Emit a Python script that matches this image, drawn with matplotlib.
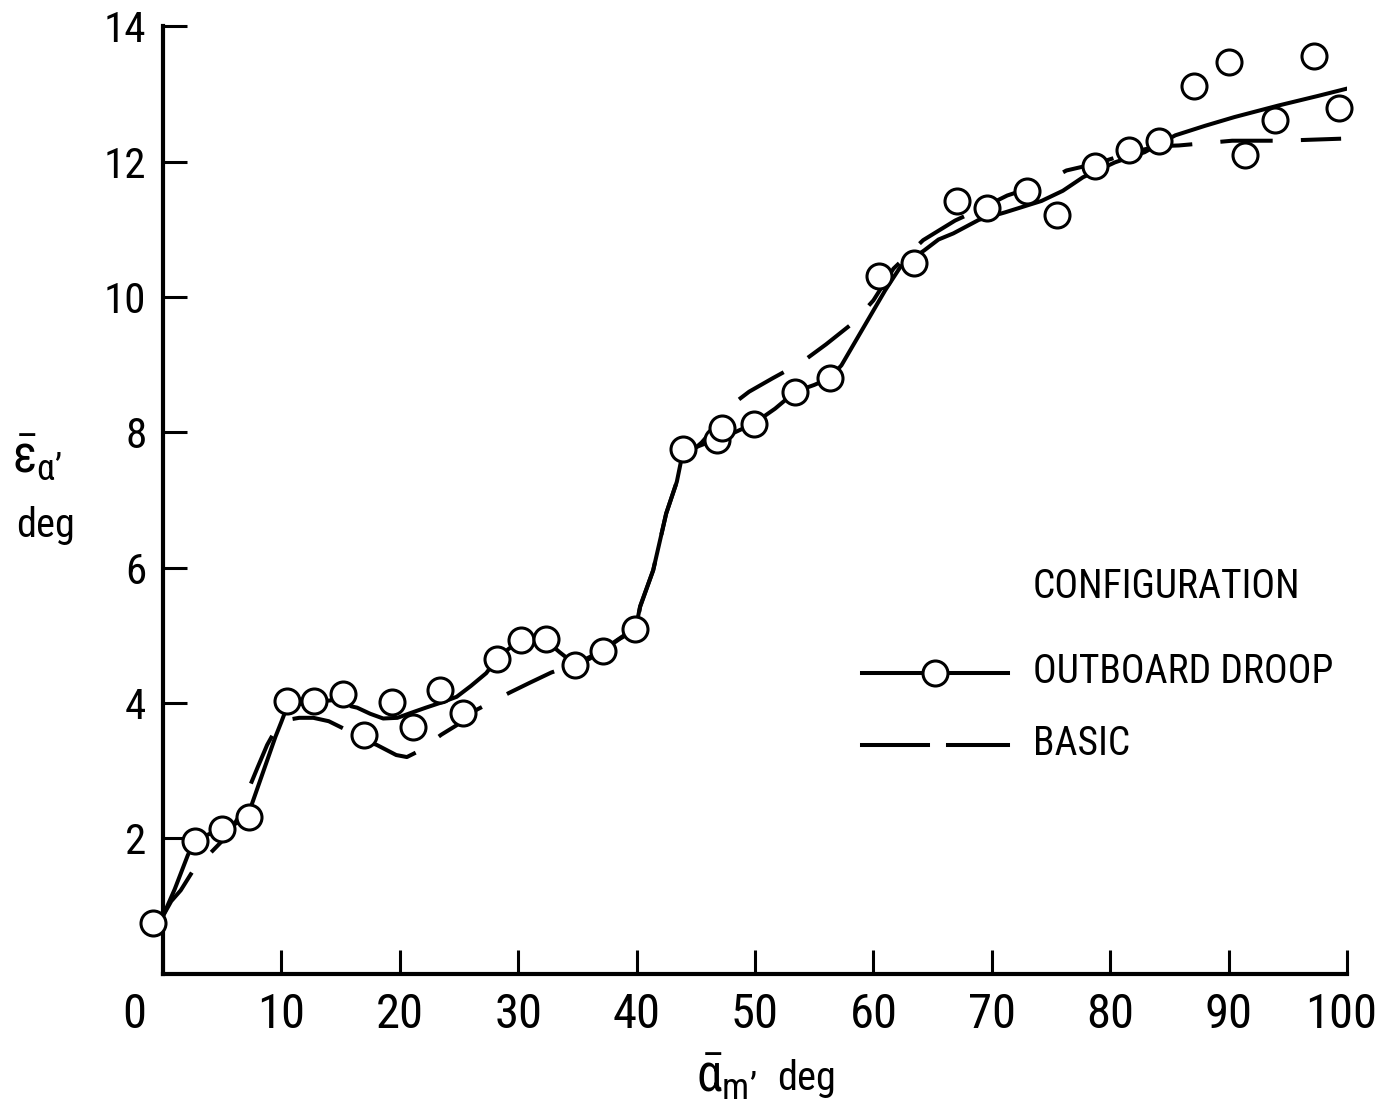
import matplotlib
matplotlib.use("Agg")
import matplotlib.pyplot as plt
import matplotlib.transforms as mtransforms

FONT = ["Roboto Condensed", "DejaVu Sans"]
plt.rcParams["font.family"] = FONT
plt.rcParams["mathtext.fontset"] = "custom"
plt.rcParams["mathtext.rm"] = FONT[0]
plt.rcParams["mathtext.it"] = FONT[0]
plt.rcParams["mathtext.bf"] = FONT[0]
plt.rcParams["mathtext.fallback"] = "stixsans"

# ---- measured points, outboard droop configuration ----
droop_x = [-0.8, 2.7, 5.0, 7.3, 10.5, 12.75, 15.2, 17.0, 19.35, 21.1, 23.4, 25.3,
           28.2, 30.2, 32.35, 34.8, 37.2, 39.9, 43.9, 46.8, 47.2, 49.9, 53.4, 56.3,
           60.5, 63.45, 67.1, 69.6, 73.0, 75.5, 78.7, 81.6, 84.1, 87.1, 90.0, 91.4,
           93.9, 97.2, 99.3]
droop_y = [0.75, 1.96, 2.14, 2.32, 4.03, 4.03, 4.13, 3.53, 4.02, 3.64, 4.19, 3.85,
           4.65, 4.93, 4.94, 4.56, 4.77, 5.09, 7.76, 7.89, 8.07, 8.13, 8.60, 8.80,
           10.31, 10.51, 11.42, 11.31, 11.57, 11.21, 11.94, 12.17, 12.31, 13.12, 13.48, 12.10,
           12.62, 13.56, 12.80]

# ---- faired curve through the droop data ----
droop_fair_x = [0.0, 1.0, 2.1, 2.7, 4.0, 5.0, 6.2, 7.3, 8.0, 8.8, 9.5, 10.0, 10.5,
                12.75, 15.2, 15.9, 16.4, 17.5, 18.6, 19.8, 20.9, 22.2, 23.4, 24.8, 26.0,
                27.3, 28.2, 29.2, 30.2, 32.3, 33.5, 34.8, 36.0, 37.2, 38.6, 39.9, 40.3,
                41.4, 42.5, 43.4, 43.9, 45.3, 46.8, 48.3, 49.9, 51.7, 53.4, 55.0, 56.3,
                57.3, 58.5, 59.7, 61.0, 62.3, 63.4, 64.3, 65.5, 66.75, 68.9, 71.1, 74.2,
                76.0, 77.7, 80.4, 82.9, 85.5, 88.0, 90.5, 94.2, 97.5, 100.9]
droop_fair_y = [0.85, 1.25, 1.75, 1.96, 2.07, 2.14, 2.22, 2.40, 2.75, 3.15, 3.50, 3.72, 3.95,
                4.02, 4.05, 3.95, 3.93, 3.84, 3.77, 3.78, 3.85, 3.93, 4.00, 4.09, 4.25,
                4.44, 4.65, 4.80, 4.92, 4.93, 4.75, 4.57, 4.65, 4.78, 4.95, 5.08, 5.43,
                5.96, 6.80, 7.27, 7.70, 7.80, 7.90, 8.00, 8.13, 8.35, 8.60, 8.70, 8.80,
                8.99, 9.35, 9.71, 10.10, 10.45, 10.58, 10.69, 10.85, 10.94, 11.14, 11.25, 11.42,
                11.57, 11.77, 11.99, 12.14, 12.39, 12.53, 12.66, 12.83, 12.97, 13.12]

# ---- faired curve, basic configuration ----
basic_x = [0.0, 0.7, 1.5, 2.5, 4.0, 5.5, 6.5, 7.15, 8.0, 8.8, 9.5, 10.2, 11.5, 12.7,
           14.0, 15.5, 17.0, 18.05, 19.7, 20.6, 21.4, 22.5, 23.5, 24.8, 26.5, 27.6,
           29.25, 31.0, 32.8, 34.8, 37.2, 38.2, 39.2, 40.0, 40.3, 41.4, 42.5, 43.4,
           44.0, 45.5, 46.5, 47.7, 49.5, 51.5, 53.9, 56.0, 58.3, 60.0, 61.7, 64.2,
           66.9, 69.0, 71.3, 74.2, 76.3, 79.0, 82.0, 84.2, 85.8, 90.3, 94.5, 99.5]
basic_y = [0.85, 1.07, 1.23, 1.51, 1.78, 2.05, 2.35, 2.69, 3.05, 3.38, 3.60, 3.74, 3.78, 3.78,
           3.73, 3.60, 3.45, 3.38, 3.23, 3.20, 3.27, 3.40, 3.53, 3.67, 3.90, 4.00,
           4.15, 4.30, 4.45, 4.57, 4.78, 4.91, 5.03, 5.15, 5.42, 5.96, 6.80, 7.27,
           7.62, 7.85, 8.05, 8.36, 8.60, 8.80, 9.03, 9.30, 9.62, 9.95, 10.42, 10.84,
           11.13, 11.30, 11.50, 11.67, 11.87, 11.98, 12.15, 12.23, 12.24, 12.31, 12.31, 12.34]

x_ticks = [0, 10, 20, 30, 40, 50, 60, 70, 80, 90, 100]
y_ticks = [2, 4, 6, 8, 10, 12, 14]

fig = plt.figure(figsize=(13.81, 11.18), dpi=100)
ax = fig.add_axes([0.118, 0.1292, 0.8574, 0.8472])

LW = 2.9
ax.plot(basic_x, basic_y, color="black", lw=LW, ls=(0, (13, 7)),
        solid_capstyle="butt", dash_capstyle="butt", zorder=2)
ax.plot(droop_fair_x, droop_fair_y, color="black", lw=LW, solid_capstyle="round",
        solid_joinstyle="round", zorder=2)
ax.plot(droop_x, droop_y, ls="none", marker="o", ms=18, mfc="white", mec="black",
        mew=2.2, zorder=3, clip_on=False)

ax.set_xlim(0, 100)
ax.set_ylim(0, 14)
for side in ("top", "right"):
    ax.spines[side].set_visible(False)
for side in ("left", "bottom"):
    ax.spines[side].set_linewidth(3)
ax.set_xticks(x_ticks)
ax.set_yticks(y_ticks)
ax.tick_params(direction="in", length=17, width=2.2, colors="black")
ax.tick_params(axis="x", labelsize=35, pad=13)
ax.tick_params(axis="y", labelsize=31, pad=12)


def nudge(label, dx_px):
    label.set_transform(label.get_transform() +
                        mtransforms.ScaledTranslation(dx_px / 100, 0, fig.dpi_scale_trans))


xt = ax.xaxis.get_major_ticks()
nudge(xt[0].label1, -29)   # zero label sits well left of the corner
nudge(xt[-1].label1, -6)

# axis titles
fig.text(0.5040, 0.0233, r"$\bar{\alpha}_{\mathrm{m}’}$", fontsize=37, ha="left", va="baseline")
fig.text(0.5626, 0.0250, "deg", fontsize=29, ha="left", va="baseline")
fig.text(0.0090, 0.5778, r"$\bar{\varepsilon}_{\alpha’}$", fontsize=37, ha="left", va="baseline")
fig.text(0.0116, 0.5197, "deg", fontsize=29, ha="left", va="baseline")

# key
ax.text(0.7345, 0.4085, "CONFIGURATION", transform=ax.transAxes, fontsize=28.5, va="center")
ax.text(0.7345, 0.3187, "OUTBOARD DROOP", transform=ax.transAxes, fontsize=28.5, va="center")
ax.text(0.7345, 0.2424, "BASIC", transform=ax.transAxes, fontsize=28.5, va="center")
ax.plot([0.590, 0.714], [0.3177, 0.3177], transform=ax.transAxes, color="black", lw=LW)
ax.plot([0.652], [0.3177], transform=ax.transAxes, marker="o", ms=18, mfc="white",
        mec="black", mew=2.2)
ax.plot([0.590, 0.6464], [0.2413, 0.2413], transform=ax.transAxes, color="black", lw=LW)
ax.plot([0.6633, 0.714], [0.2413, 0.2413], transform=ax.transAxes, color="black", lw=LW)

fig.savefig("out.png", dpi=100)
